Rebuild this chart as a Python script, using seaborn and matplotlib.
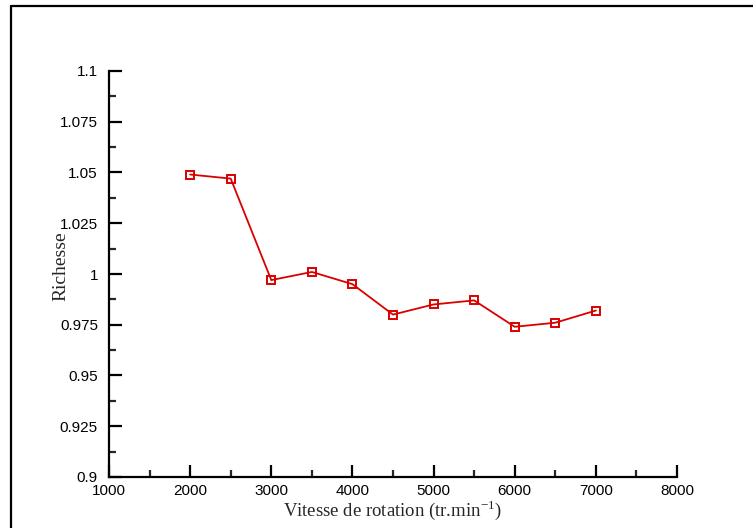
import matplotlib
matplotlib.use("Agg")
import matplotlib.pyplot as plt
from matplotlib.lines import Line2D
from matplotlib.ticker import MultipleLocator
import seaborn as sns
import pandas as pd

speed = [2000, 2500, 3000, 3500, 4000, 4500, 5000, 5500, 6000, 6500, 7000]
richesse = [1.049, 1.047, 0.997, 1.001, 0.995, 0.980, 0.985, 0.987, 0.974, 0.976, 0.982]
x_ticks = [1000, 2000, 3000, 4000, 5000, 6000, 7000, 8000]
y_ticks = [0.9, 0.925, 0.95, 0.975, 1.0, 1.025, 1.05, 1.075, 1.1]
y_tick_labels = ["0.9", "0.925", "0.95", "0.975", "1", "1.025", "1.05", "1.075", "1.1"]

sns.set_style("white")
plt.rcParams["font.family"] = ["Liberation Sans", "DejaVu Sans"]

df = pd.DataFrame({"speed": speed, "richesse": richesse})

fig = plt.figure(figsize=(7.53, 5.28), dpi=100)
ax = fig.add_axes([109 / 753, 1 - 477 / 528, (677 - 109) / 753, (477 - 71) / 528])

red = "#d90000"
sns.lineplot(data=df, x="speed", y="richesse", ax=ax, color=red, linewidth=1.3,
             marker="s", markersize=6.2, markerfacecolor="none",
             markeredgecolor=red, markeredgewidth=1.4)

ax.set_xlim(1000, 8000)
ax.set_ylim(0.9, 1.1)
ax.set_xticks(x_ticks)
ax.set_xticklabels([str(v) for v in x_ticks])
ax.set_yticks(y_ticks)
ax.set_yticklabels(y_tick_labels)
ax.xaxis.set_minor_locator(MultipleLocator(500))
ax.yaxis.set_minor_locator(MultipleLocator(0.0125))

for side in ["top", "right"]:
    ax.spines[side].set_visible(False)
for side in ["left", "bottom"]:
    ax.spines[side].set_linewidth(1.6)
    ax.spines[side].set_color("black")

ax.tick_params(axis="both", which="major", direction="in", length=9, width=1.6,
               labelsize=11, colors="black")
ax.tick_params(axis="both", which="minor", direction="in", length=5, width=1.6)
ax.tick_params(axis="x", which="major", pad=5)
ax.tick_params(axis="y", which="major", pad=8)
ax.tick_params(axis="both", which="both", left=True, bottom=True)

ax.set_xlabel("Vitesse de rotation (tr.min$^{\\mathregular{-1}}$)",
              family="Liberation Serif", fontsize=13.5)
ax.set_ylabel("Richesse", family="Liberation Serif", fontsize=14)
ax.xaxis.set_label_coords((392 - 109) / 568, -(498 - 477) / 406)
ax.yaxis.set_label_coords(-(109 - 69) / 568, (477 - 266) / 406)

# outer frame lines
fig.add_artist(Line2D([11 / 753, 1.0], [1 - 6 / 528, 1 - 6 / 528], transform=fig.transFigure,
                      color="black", linewidth=1.6))
fig.add_artist(Line2D([11 / 753, 11 / 753], [0.0, 1 - 6 / 528], transform=fig.transFigure,
                      color="black", linewidth=1.6))

fig.savefig("out.png", dpi=100)
